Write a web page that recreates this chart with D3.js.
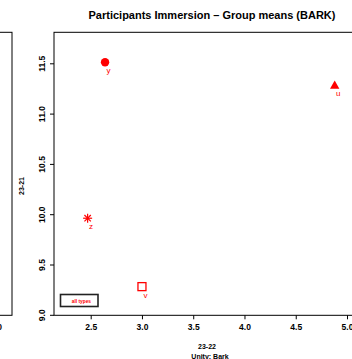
<!DOCTYPE html>
<html>
<head>
<meta charset="utf-8">
<script src="https://cdn.jsdelivr.net/npm/d3@7"></script>
<style>
  body { margin: 0; background: #fff; }
  text { font-family: "Liberation Sans", Arial, sans-serif; }
</style>
</head>
<body>
<div id="chart"></div>
<script>
// group means
const groups = ["y", "u", "z", "v"];
const unityX = [2.64, 4.88, 2.47, 3.00];
const unityY = [11.51, 11.28, 9.96, 9.28];
const shapes = ["circle", "triangle", "asterisk", "square"];
const xTicks = [2.5, 3.0, 3.5, 4.0, 4.5, 5.0];
const yTicks = [9.0, 9.5, 10.0, 10.5, 11.0, 11.5];

var width = 352, height = 359;
var box = {left: 54, top: 32.3, right: 360, bottom: 315.3};

var svg = d3.select("#chart")
    .append("svg")
    .attr("width", width)
    .attr("height", height);

var x = d3.scaleLinear().domain([2.5, 5.0]).range([90.7, 347]);
var y = d3.scaleLinear().domain([9.0, 11.5]).range([314.8, 63.3]);

// left neighbour panel (cut off at the edge, as in the source)
svg.append("rect")
    .attr("x", -60).attr("y", box.top)
    .attr("width", 72).attr("height", box.bottom - box.top)
    .attr("fill", "none").attr("stroke", "#000").attr("stroke-width", 1);
svg.append("text")
    .attr("x", -4).attr("y", 330)
    .attr("text-anchor", "middle")
    .attr("font-size", 8.5).attr("font-weight", "bold")
    .text("5.0");

// title
svg.append("text")
    .attr("x", 212).attr("y", 18.5)
    .attr("text-anchor", "middle")
    .attr("font-size", 11).attr("font-weight", "bold")
    .text("Participants Immersion \u2013 Group means (BARK)");

// plot box
svg.append("rect")
    .attr("x", box.left).attr("y", box.top)
    .attr("width", box.right - box.left).attr("height", box.bottom - box.top)
    .attr("fill", "none").attr("stroke", "#000").attr("stroke-width", 1);

// x axis
var xAxis = svg.append("g")
    .attr("transform", "translate(0," + box.bottom + ")")
    .call(d3.axisBottom(x).tickValues(xTicks).tickSize(4).tickFormat(d3.format(".1f")));
xAxis.select(".domain").remove();
xAxis.selectAll("text").attr("font-size", 8.5).attr("font-weight", "bold")
    .attr("font-family", "Liberation Sans, Arial, sans-serif").attr("y", 9).attr("dy", "0.71em");

// y axis
var yAxis = svg.append("g")
    .attr("transform", "translate(" + box.left + ",0)")
    .call(d3.axisLeft(y).tickValues(yTicks).tickSize(4).tickFormat(d3.format(".1f")));
yAxis.select(".domain").remove();
yAxis.selectAll("text")
    .attr("font-size", 8.5).attr("font-weight", "bold")
    .attr("font-family", "Liberation Sans, Arial, sans-serif")
    .attr("transform", "rotate(-90)")
    .attr("x", 0).attr("y", -9)
    .attr("dy", 0)
    .attr("text-anchor", "middle");

// axis titles
svg.append("text")
    .attr("transform", "translate(24,186) rotate(-90)")
    .attr("text-anchor", "middle")
    .attr("font-size", 7).attr("font-weight", "bold")
    .text("23-21");
svg.append("text")
    .attr("x", 207).attr("y", 349)
    .attr("text-anchor", "middle")
    .attr("font-size", 7).attr("font-weight", "bold")
    .text("23-22");
svg.append("text")
    .attr("x", 210).attr("y", 359)
    .attr("text-anchor", "middle")
    .attr("font-size", 7).attr("font-weight", "bold")
    .text("Unity: Bark");

// points
var red = "#ff0000";
var pts = svg.append("g");
groups.forEach(function (g, i) {
    var cx = x(unityX[i]), cy = y(unityY[i]);
    var s = shapes[i];
    if (s === "circle") {
        pts.append("circle").attr("cx", cx).attr("cy", cy).attr("r", 4.2).attr("fill", red);
    } else if (s === "triangle") {
        pts.append("path")
            .attr("d", d3.symbol().type(d3.symbolTriangle).size(38)())
            .attr("transform", "translate(" + cx + "," + (cy + 0.5) + ")")
            .attr("fill", red);
    } else if (s === "square") {
        pts.append("rect").attr("x", cx - 4).attr("y", cy - 4)
            .attr("width", 8).attr("height", 8)
            .attr("fill", "none").attr("stroke", red).attr("stroke-width", 1.3);
    } else {
        [0, 45, 90, 135].forEach(function (a) {
            pts.append("line")
                .attr("x1", cx - 4.5).attr("x2", cx + 4.5)
                .attr("y1", cy).attr("y2", cy)
                .attr("transform", "rotate(" + a + "," + cx + "," + cy + ")")
                .attr("stroke", red).attr("stroke-width", 1.2);
        });
    }
    pts.append("text")
        .attr("x", cx + 3.5).attr("y", cy + 11)
        .attr("text-anchor", "middle")
        .attr("font-size", 8)
        .attr("fill", red)
        .text(g);
});

// legend
svg.append("rect")
    .attr("x", 60.5).attr("y", 294.5)
    .attr("width", 37.5).attr("height", 12)
    .attr("fill", "none").attr("stroke", "#222").attr("stroke-width", 1.6);
svg.append("text")
    .attr("x", 91).attr("y", 302.5)
    .attr("text-anchor", "end")
    .attr("font-size", 4.8).attr("font-weight", "bold")
    .attr("fill", red)
    .text("all types");
</script>
</body>
</html>
